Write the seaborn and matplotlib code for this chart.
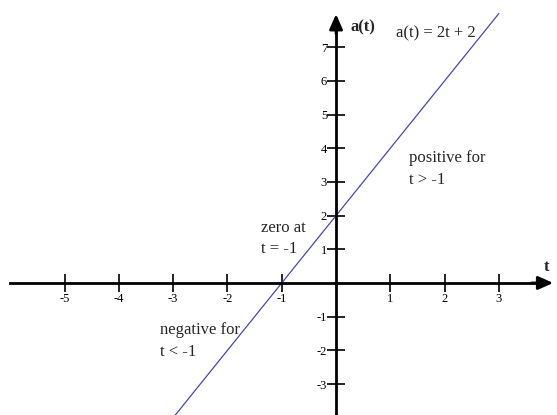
import matplotlib
matplotlib.use("Agg")
import matplotlib.pyplot as plt
import seaborn as sns
import pandas as pd

# a(t) = 2t + 2, evaluated at the two ends of the drawn segment
t_vals = [-3, 3]
a_vals = [-4, 8]

x_ticks = [-5, -4, -3, -2, -1, 1, 2, 3]
y_ticks = [-3, -2, -1, 1, 2, 3, 4, 5, 6, 7]

sns.set_style("white")
plt.rcParams["font.family"] = ["Liberation Serif", "DejaVu Serif"]

fig = plt.figure(figsize=(5.57, 4.15), dpi=100)
ax = fig.add_axes([0, 0, 1, 1])
ax.set_xlim(-6.19, 4.07)
ax.set_ylim(-3.92, 8.40)

df = pd.DataFrame({"t": t_vals, "a": a_vals})
sns.lineplot(data=df, x="t", y="a", ax=ax, color="#4848a8", linewidth=0.9)

# axes through the origin
for side in ("top", "right"):
    ax.spines[side].set_visible(False)
ax.spines["left"].set_position(("data", 0))
ax.spines["bottom"].set_position(("data", 0))
ax.spines["left"].set_bounds(-4.5, 7.6)
ax.spines["bottom"].set_bounds(-6.0, 3.7)
for side in ("left", "bottom"):
    ax.spines[side].set_linewidth(2)
    ax.spines[side].set_color("black")

ax.set_xticks(x_ticks)
ax.set_yticks(y_ticks)
ax.set_xticklabels([str(v) for v in x_ticks])
ax.set_yticklabels([str(v) for v in y_ticks])
ax.tick_params(axis="both", which="major", bottom=True, left=True,
               direction="inout", length=13, width=1.2,
               colors="black", labelsize=9)
ax.tick_params(axis="x", pad=1)
ax.tick_params(axis="y", pad=0)
ax.set_xlabel("")
ax.set_ylabel("")

# arrow heads
ax.annotate("", xy=(0, 7.98), xytext=(0, 7.4),
            arrowprops=dict(arrowstyle="-|>,head_length=0.9,head_width=0.4",
                            color="black", lw=2, shrinkA=0, shrinkB=0))
ax.annotate("", xy=(4.0, 0), xytext=(3.6, 0),
            arrowprops=dict(arrowstyle="-|>,head_length=0.9,head_width=0.4",
                            color="black", lw=2, shrinkA=0, shrinkB=0))

# axis names
ax.text(0.27, 7.6, "a(t)", fontsize=12, fontweight="bold", ha="left", va="center")
ax.text(3.88, 0.47, "t", fontsize=12, fontweight="bold", ha="center", va="center")

# annotations
ax.text(1.1, 7.42, "a(t) = 2t + 2", fontsize=12, ha="left", va="center")
ax.text(1.35, 3.7, "positive for", fontsize=12, ha="left", va="center")
ax.text(1.35, 3.05, "t > -1", fontsize=12, ha="left", va="center")
ax.text(-1.38, 1.63, "zero at", fontsize=12, ha="left", va="center")
ax.text(-1.38, 1.0, "t = -1", fontsize=12, ha="left", va="center")
ax.text(-3.24, -1.39, "negative for", fontsize=12, ha="left", va="center")
ax.text(-3.24, -2.05, "t < -1", fontsize=12, ha="left", va="center")

fig.savefig("out.png", dpi=100)
